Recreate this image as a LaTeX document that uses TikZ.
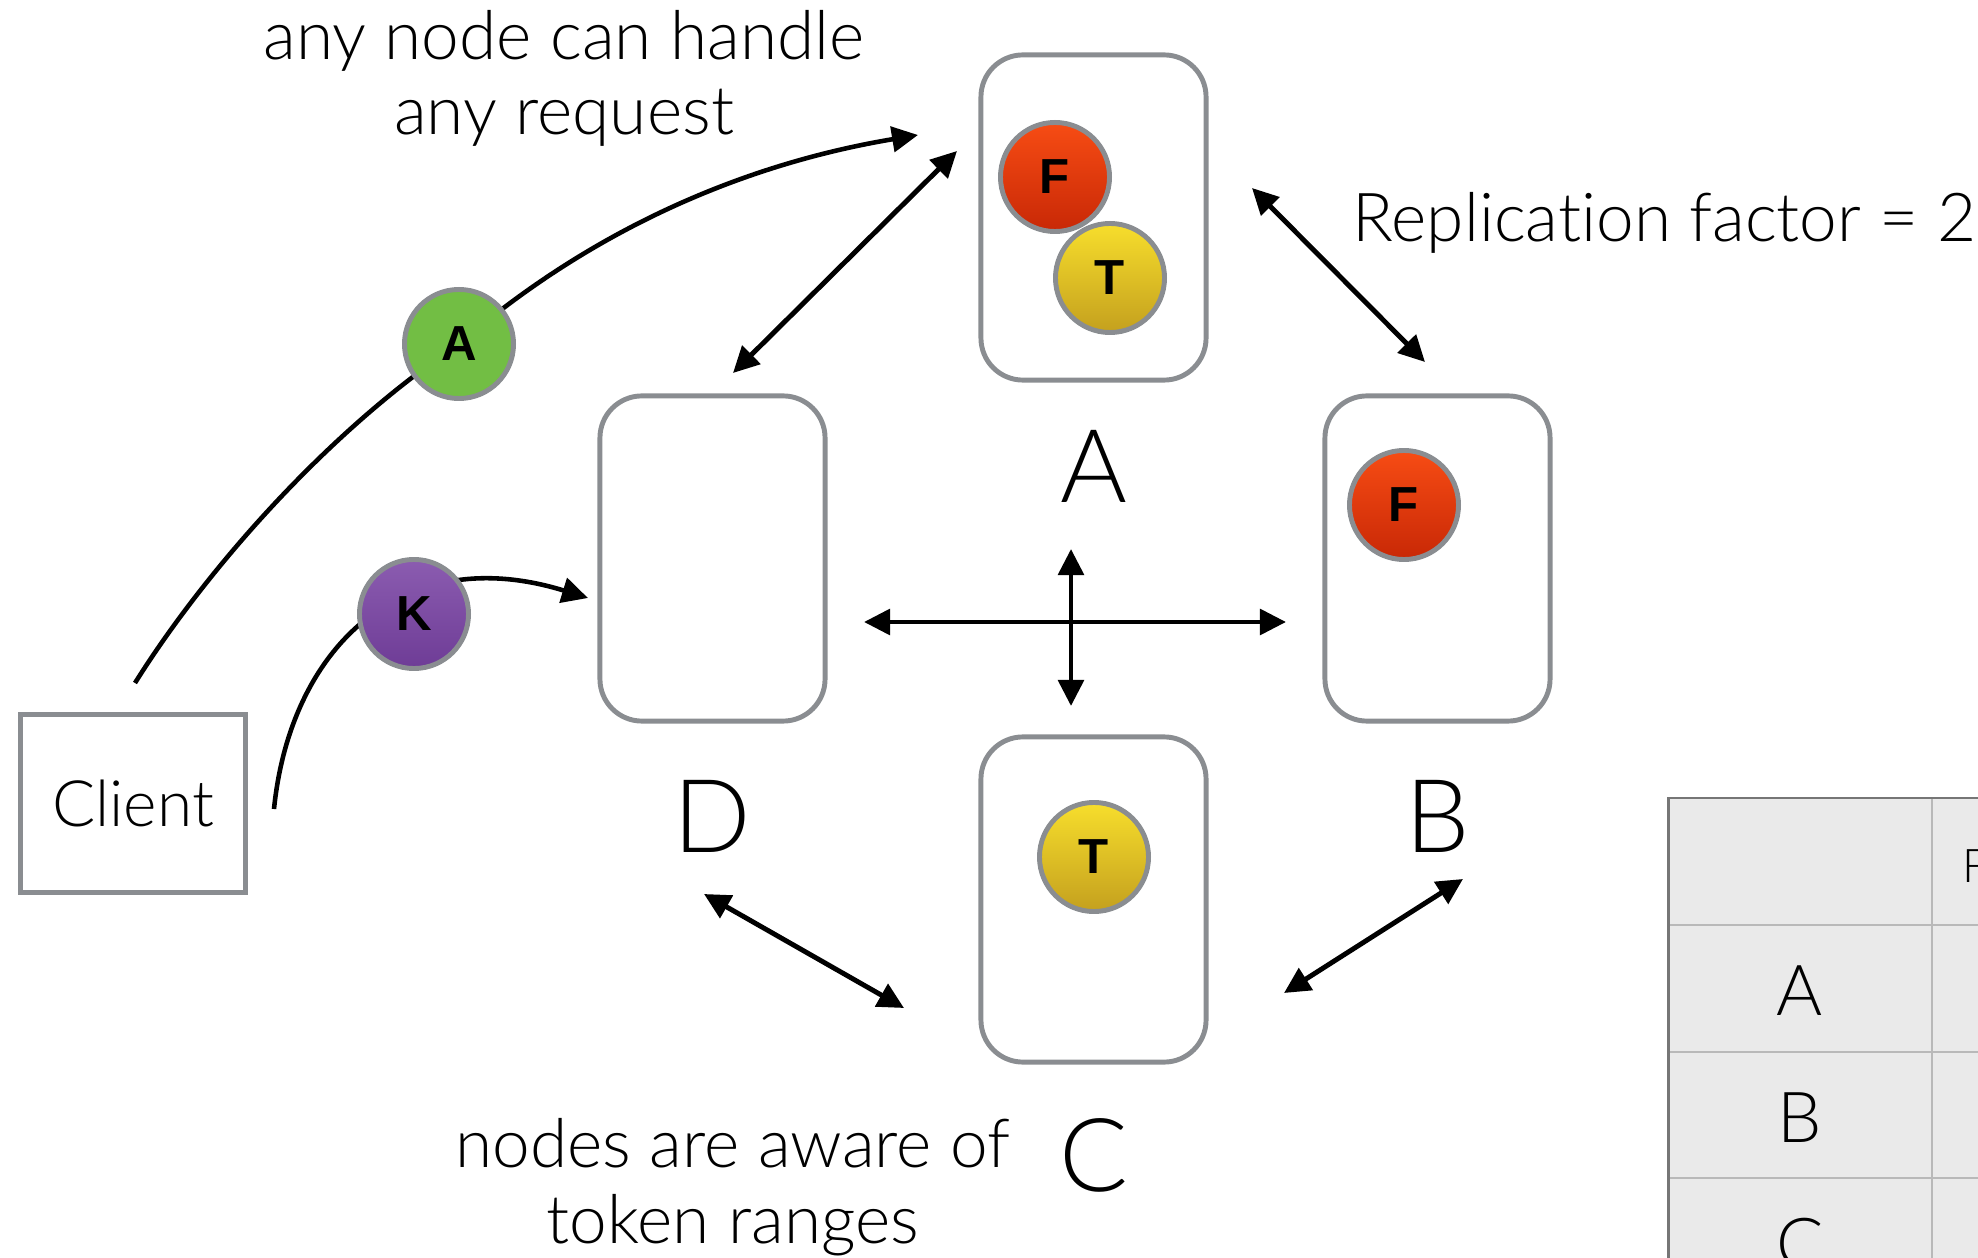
\documentclass[tikz,border=0pt]{standalone}
\usepackage{fontspec}
\setmainfont{Lato}[UprightFont=* Light, BoldFont=* Bold]
\newfontfamily\ballfont{Liberation Sans}
\usetikzlibrary{positioning,arrows.meta}

\definecolor{rimgray}{RGB}{138,141,145}
\definecolor{fredtop}{RGB}{247,76,20}
\definecolor{fredbot}{RGB}{200,40,6}
\definecolor{tyeltop}{RGB}{247,222,44}
\definecolor{tyelbot}{RGB}{196,160,30}
\definecolor{agreen}{RGB}{114,190,68}
\definecolor{kpurtop}{RGB}{139,92,176}
\definecolor{kpurbot}{RGB}{110,60,150}
\definecolor{cellgray}{RGB}{234,234,234}
\definecolor{gridgray}{RGB}{185,185,185}
\definecolor{edgegray}{RGB}{118,118,118}

\tikzset{
  server/.style={draw=rimgray, line width=1.4pt, rounded corners=0.42cm,
    minimum width=2.25cm, minimum height=3.25cm},
  serverlabel/.style={inner sep=0pt, font=\fontsize{29}{31}\selectfont},
  ball/.style={circle, draw=rimgray, line width=1.4pt, minimum size=1.09cm,
    inner sep=0pt, font=\ballfont\bfseries\fontsize{14}{15}\selectfont},
  fball/.style={ball, top color=fredtop, bottom color=fredbot},
  tball/.style={ball, top color=tyeltop, bottom color=tyelbot},
  note/.style={inner sep=0pt, align=center, font=\fontsize{19.2}{21.6}\selectfont},
}

\begin{document}
\begin{tikzpicture}[x=0.01cm,y=-0.01cm,>={Triangle[length=7.4pt,width=7.2pt]}]
\useasboundingbox (0,0) rectangle (1978,1258);
\clip (0,0) rectangle (1978,1258);

% ring of servers
\node[server] (A) at (1093.5,217.5) {};
\node[server] (B) at (1437.5,558.5) {};
\node[server] (C) at (1093.5,899.5) {};
\node[server] (D) at (712.5,558.5) {};
\node[serverlabel, below=0.47cm of A] (labA) {A};
\node[serverlabel, below=0.56cm of B] (labB) {B};
\node[serverlabel, below=0.53cm of C] (labC) {C};
\node[serverlabel, below=0.56cm of D] (labD) {D};

\node[draw=rimgray, line width=1.4pt, minimum width=2.25cm, minimum height=1.78cm,
  font=\fontsize{18.2}{20}\selectfont] (client) at (133,803.5) {Client};

% gossip arrows
\coordinate (adA) at (957,151);   \coordinate (adD) at (733,373);
\coordinate (abA) at (1252,188);  \coordinate (abB) at (1425,362);
\coordinate (dcD) at (704,894);   \coordinate (dcC) at (904,1008);
\coordinate (cbC) at (1284,993);  \coordinate (cbB) at (1463,879);
\coordinate (midW) at (864,622);  \coordinate (midE) at (1286,622);
\coordinate (midN) at (1071,549); \coordinate (midS) at (1071,706);

\begin{scope}[line width=1.4pt]
\draw[<->] (adA) -- (adD);
\draw[<->] (abA) -- (abB);
\draw[<->] (dcD) -- (dcC);
\draw[<->] (cbC) -- (cbB);
\draw[<->] (midW) -- (midE);
\draw[<->] (midN) -- (midS);
\end{scope}

% requests from the client
\coordinate (reqS) at (135,683);  \coordinate (reqE) at (918,135);
\coordinate (viaA) at (459,344);
\coordinate (keyS) at (274,809);  \coordinate (keyE) at (588,598);
\begin{scope}[line width=1.3pt]
\draw[->] (reqS) .. controls (205,571) and (329,430) .. (viaA)
  .. controls (609,215) and (768,160) .. (reqE);
\draw[->] (keyS) .. controls (290,650) and (400,540) .. (keyE);
\end{scope}

% tokens
\node[ball, fill=agreen] (tokA) at (viaA) {A};
\node[ball, top color=kpurtop, bottom color=kpurbot] (tokK) at (414,614) {K};
\node[fball] (aF) at (1055,177) {F};
\node[tball] (aT) at (1110,278) {T};
\node[fball] (bF) at (1404,505) {F};
\node[tball] (cT) at (1094,857) {T};

\node[note, anchor=base] (anyreq) at (564,135) {any node can handle\\any request};
\node[note, anchor=base west] (repl) at (1352,242) {Replicat\kern0pt ion factor = 2};
\node[note, anchor=base] (aware) at (733,1243) {nodes are aware of\\token ranges};

% token table
\fill[cellgray] (1668,798) rectangle (1990,1270);
\begin{scope}[gridgray, line width=0.6pt]
\foreach \y in {925,1052,1178}
  \draw (1668,\y) -- (1990,\y);
\draw (1932,798) -- (1932,1270);
\end{scope}
\draw[edgegray, line width=0.85pt] (1668,1270) -- (1668,798) -- (1990,798);
\foreach \r/\y in {A/1015,B/1142,C/1268}
  \node[inner sep=0pt, anchor=base, font=\fontsize{20}{22}\selectfont] (row\r) at (1800,\y) {\r};
\node[inner sep=0pt, anchor=base west, font=\fontsize{13.2}{15}\selectfont] (headF) at (1962,882) {F};
\end{tikzpicture}
\end{document}
